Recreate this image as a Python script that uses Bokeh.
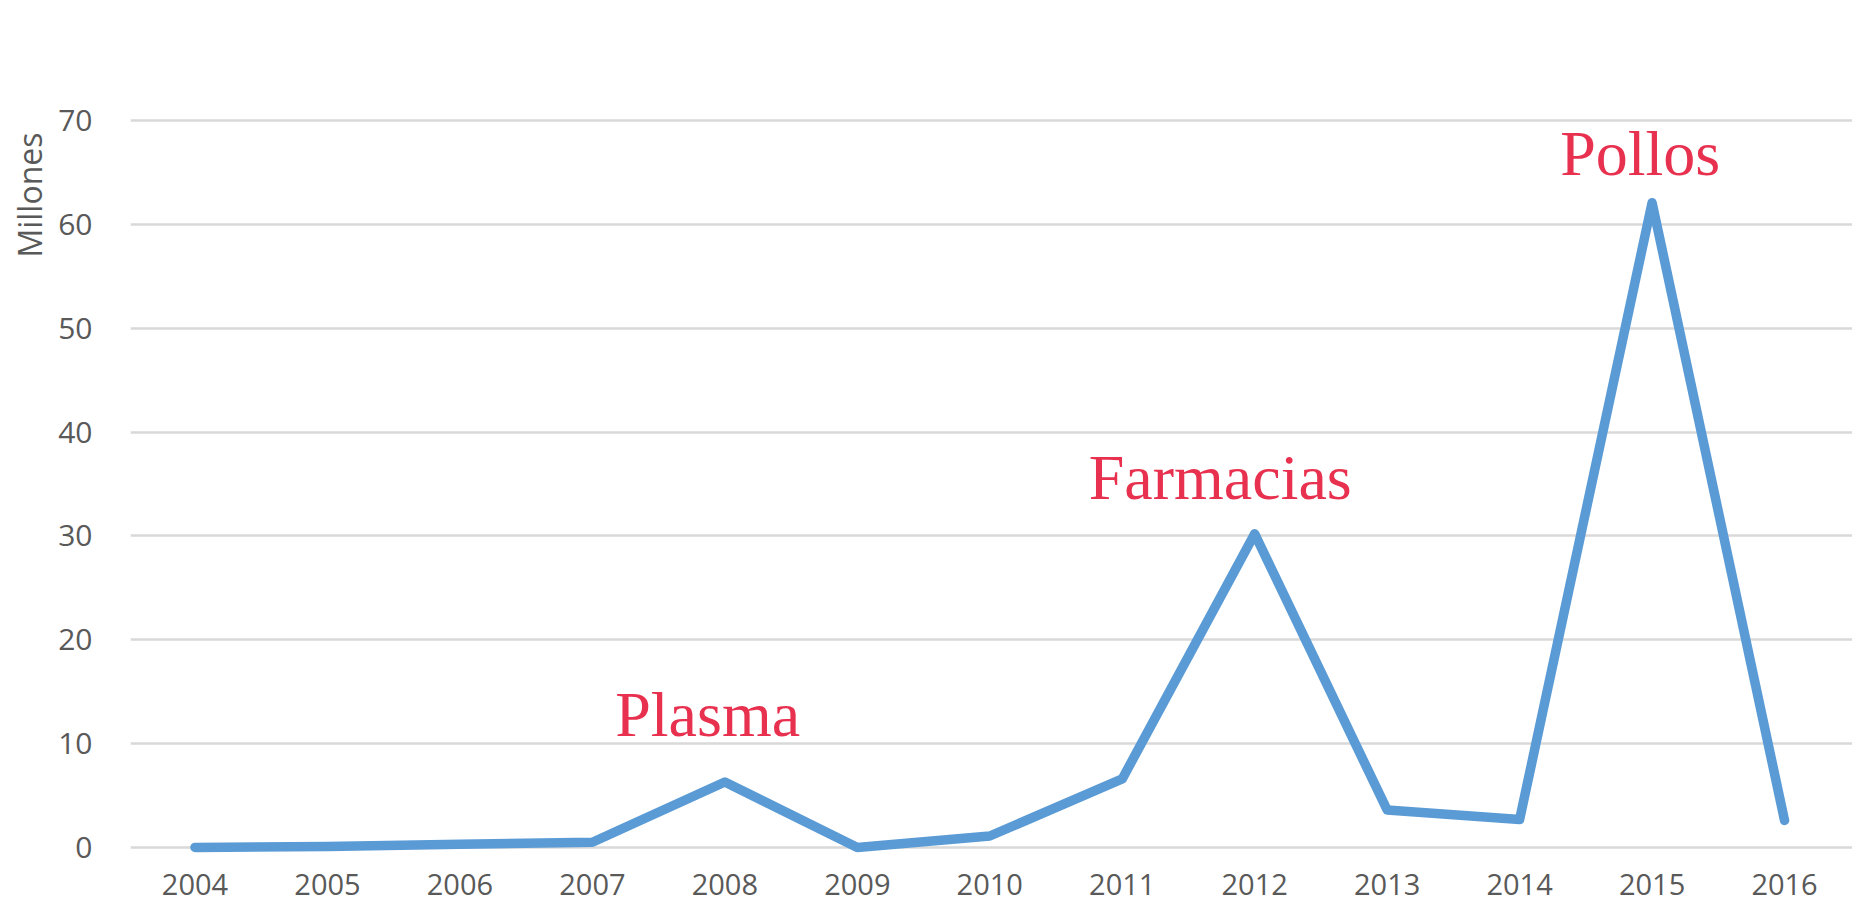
from bokeh.plotting import figure
from bokeh.models import FixedTicker, ColumnDataSource, Title
from bokeh.core.properties import value
from bokeh.embed import file_html
from bokeh.resources import INLINE

# ---- data ----
years = [2004, 2005, 2006, 2007, 2008, 2009, 2010, 2011, 2012, 2013, 2014, 2015, 2016]
millones = [0.0, 0.1, 0.3, 0.5, 6.3, 0.0, 1.1, 6.6, 30.2, 3.6, 2.7, 62.1, 2.6]
y_ticks = [0, 10, 20, 30, 40, 50, 60, 70]
y_title = "Millones"

ann_text = ["Plasma", "Farmacias", "Pollos"]
ann_x = [3.87, 7.74, 10.91]
ann_y = [12.8, 35.6, 66.8]

idx = list(range(len(years)))

p = figure(width=1852, height=908, output_backend="svg", toolbar_location=None,
           x_range=(-0.487, 12.513), y_range=(-1.74, 70.3),
           min_border_left=130, min_border_right=0, min_border_top=117, min_border_bottom=43)
p.outline_line_color = None
p.background_fill_color = "white"
p.border_fill_color = "white"

p.line(idx, millones, line_color="#5B9BD5", line_width=9.5, line_join="round", line_cap="round")

src = ColumnDataSource(dict(x=ann_x, y=ann_y, t=ann_text))
p.text(x="x", y="y", text="t", source=src, text_align="center", text_baseline="alphabetic",
       text_font=value("Liberation Serif"), text_font_size="64px", text_color="#E8304F")

# x axis
p.xaxis.ticker = FixedTicker(ticks=idx)
p.xaxis.major_label_overrides = {i: str(y) for i, y in zip(idx, years)}
p.xaxis.axis_line_color = None
p.xaxis.major_tick_line_color = None
p.xaxis.minor_tick_line_color = None
p.xaxis.major_label_standoff = 2
p.xaxis.major_label_text_font = "Open Sans"
p.xaxis.major_label_text_font_size = "29px"
p.xaxis.major_label_text_color = "#595959"

# y axis
p.yaxis.ticker = FixedTicker(ticks=y_ticks)
p.yaxis.axis_line_color = None
p.yaxis.major_tick_line_color = None
p.yaxis.minor_tick_line_color = None
p.yaxis.major_label_standoff = 32
p.yaxis.major_label_text_font = "Open Sans"
p.yaxis.major_label_text_font_size = "30px"
p.yaxis.major_label_text_color = "#595959"

p.add_layout(Title(text=y_title, align="right", offset=15, standoff=9,
                   text_font="Open Sans", text_font_size="32px", text_font_style="normal",
                   text_color="#595959"), "left")

p.xgrid.grid_line_color = None
p.ygrid.grid_line_color = "#D9D9D9"
p.ygrid.grid_line_width = 2.5

open("out.html", "w").write(file_html(p, INLINE))
